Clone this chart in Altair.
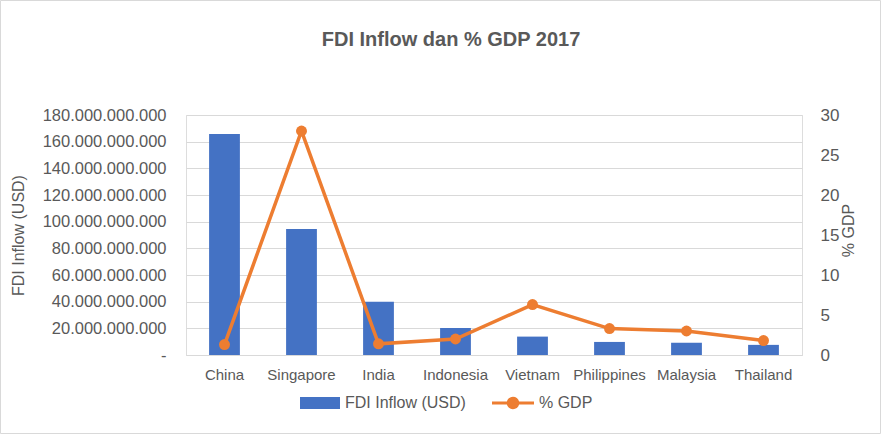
import altair as alt
import pandas as pd

countries = ["China", "Singapore", "India", "Indonesia", "Vietnam",
             "Philippines", "Malaysia", "Thailand"]
fdi_usd = [165.7e9, 94.5e9, 39.9e9, 20.3e9, 13.8e9, 9.8e9, 9.1e9, 7.6e9]
gdp_pct = [1.3, 28.0, 1.4, 2.0, 6.3, 3.3, 3.0, 1.8]
left_ticks = [0, 20e9, 40e9, 60e9, 80e9, 100e9, 120e9, 140e9, 160e9, 180e9]
right_ticks = [0, 5, 10, 15, 20, 25, 30]

df = pd.DataFrame({
    "country": countries,
    "fdi": fdi_usd,
    "gdp": gdp_pct,
    "s_bar": ["FDI Inflow (USD)"] * len(countries),
    "s_line": ["% GDP"] * len(countries),
})

TXT = "#595959"
GRID = "#d9d9d9"
BLUE = "#4472C4"
ORANGE = "#ED7D31"
FONT = "Liberation Sans"

x_enc = alt.X(
    "country:N", sort=countries, title=None,
    scale=alt.Scale(paddingInner=0.6, paddingOuter=0.3),
    axis=alt.Axis(labelAngle=0, labelFontSize=15, labelColor=TXT, labelFont=FONT,
                  labelPadding=12, ticks=False, domainColor=GRID, domainWidth=1,
                  grid=False),
)

bars = alt.Chart(df).mark_bar(color=BLUE).encode(
    x=x_enc,
    y=alt.Y(
        "fdi:Q",
        scale=alt.Scale(domain=[0, 180e9], nice=False),
        axis=alt.Axis(
            title="FDI Inflow (USD)", values=left_ticks,
            labelExpr="datum.value == 0 ? '-' : replace(format(datum.value, ',.0f'), regexp(',', 'g'), '.')",
            grid=True, gridColor=GRID, domain=False, ticks=False,
            labelFontSize=16.5, labelFont=FONT, labelColor=TXT, labelPadding=20,
            titleX=-168, titleY=120, titleAngle=270, titleBaseline="middle",
            titleAlign="center", titleFontSize=16, titleFont=FONT,
            titleFontWeight="normal", titleColor=TXT,
        ),
    ),
    color=alt.Color(
        "s_bar:N", scale=alt.Scale(range=[BLUE]),
        legend=alt.Legend(title=None, orient="none", legendX=114, legendY=268,
                          symbolType="M-1,-0.3H1V0.3H-1Z", symbolSize=1600,
                          symbolOpacity=1, symbolStrokeWidth=0,
                          labelFontSize=16, labelFont=FONT, labelColor=TXT,
                          labelOffset=5, padding=0),
    ),
)

y_right = alt.Y(
    "gdp:Q",
    scale=alt.Scale(domain=[0, 30], nice=False),
    axis=alt.Axis(
        title="% GDP", orient="right", values=right_ticks, grid=False,
        domain=False, ticks=False, labelFontSize=17, labelFont=FONT,
        labelColor=TXT, labelPadding=18,
        titleX=46, titleY=115, titleAngle=270, titleBaseline="middle",
        titleAlign="center", titleFontSize=16, titleFont=FONT,
        titleFontWeight="normal", titleColor=TXT,
    ),
)

line = alt.Chart(df).mark_line(color=ORANGE, strokeWidth=3.5).encode(
    x=x_enc, y=y_right,
)

LINE_SYM = ("M-1,-0.07H-0.29A0.3,0.3 0 0 1 0.29,-0.07H1V0.07H0.29"
            "A0.3,0.3 0 0 1 -0.29,0.07H-1Z")

pts = alt.Chart(df).mark_circle(size=120, opacity=1).encode(
    x=x_enc, y=y_right,
    color=alt.Color(
        "s_line:N", scale=alt.Scale(range=[ORANGE]),
        legend=alt.Legend(title=None, orient="none", legendX=306, legendY=267,
                          symbolType=LINE_SYM, symbolSize=1764,
                          symbolOpacity=1, symbolStrokeWidth=0,
                          labelFontSize=16, labelFont=FONT, labelColor=TXT,
                          labelOffset=5, padding=0),
    ),
)

border = alt.Chart(pd.DataFrame({"a": [0]})).mark_rect(
    fillOpacity=0, stroke=GRID, strokeWidth=1
).encode(
    x=alt.value(-185.5), x2=alt.value(694.5),
    y=alt.value(-114.5), y2=alt.value(318.5),
)

chart = alt.layer(
    bars, alt.layer(line, pts), border
).resolve_scale(
    y="independent", color="independent"
).properties(
    width=616, height=240,
    title=alt.Title("FDI Inflow dan % GDP 2017", fontSize=20, font=FONT,
                    color=TXT, fontWeight="bold", anchor="middle", dx=-43,
                    offset=-66, baseline="alphabetic"),
    padding={"left": 186, "top": 115, "right": 79, "bottom": 79},
    autosize=alt.AutoSizeParams(type="none"),
).configure_view(stroke=None).configure(background="white")

chart.save("out.html", embed_options={"renderer": "svg", "actions": False})
